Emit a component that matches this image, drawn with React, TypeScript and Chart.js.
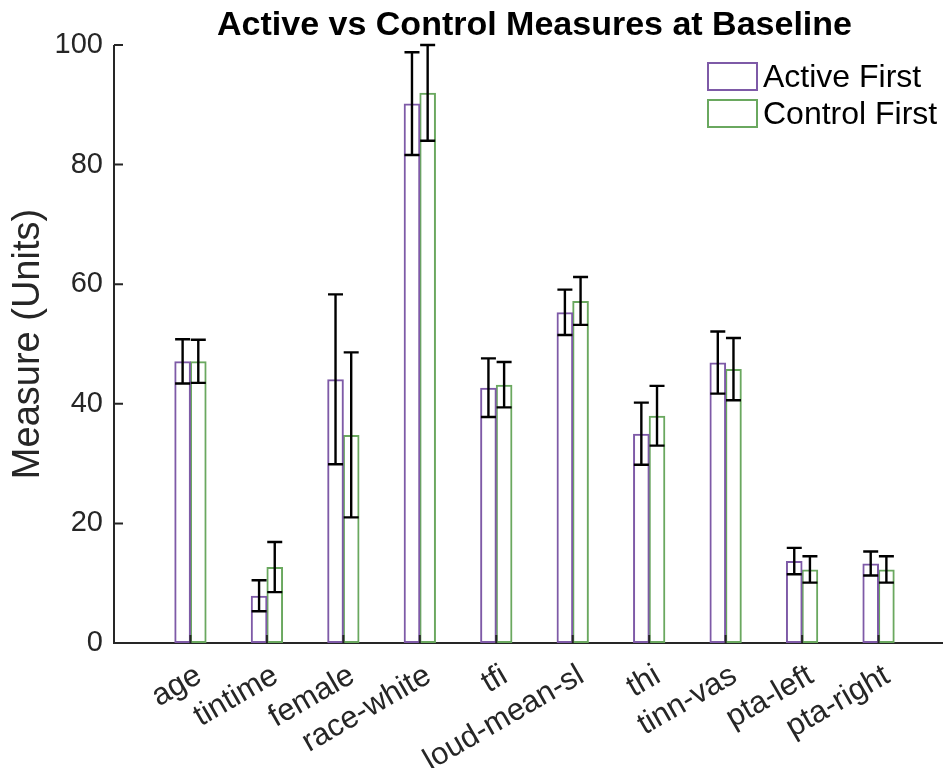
import React, { useEffect, useRef } from 'react';
import { Chart, registerables } from 'chart.js';

Chart.register(...registerables);

const categories = ['age', 'tintime', 'female', 'race-white', 'tfi', 'loud-mean-sl', 'thi', 'tinn-vas', 'pta-left', 'pta-right'];
const activeMeans = [47.1, 7.9, 44.1, 90.2, 42.7, 55.3, 35.0, 46.9, 13.7, 13.3];
const activeErr = [3.7, 2.6, 14.2, 8.6, 4.9, 3.8, 5.2, 5.2, 2.2, 2.0];
const controlMeans = [47.1, 12.7, 34.8, 92.0, 43.2, 57.2, 38.0, 45.8, 12.3, 12.3];
const controlErr = [3.6, 4.2, 13.8, 8.0, 3.8, 4.0, 5.0, 5.2, 2.2, 2.2];
const yTicks = [0, 20, 40, 60, 80, 100];
const seriesNames = ['Active First', 'Control First'];
const titleText = 'Active vs Control Measures at Baseline';
const yTitle = 'Measure (Units)';

const PURPLE = '#7E5AA7';
const GREEN = '#6AA85F';
const AXIS = '#262626';
const FONT = '"Liberation Sans", Arial, Helvetica, sans-serif';

const means = [activeMeans, controlMeans];
const errs = [activeErr, controlErr];
const colors = [PURPLE, GREEN];

const matlabPlugin = {
  id: 'matlabLook',
  beforeDatasetsDraw(chart: any) {
    const { ctx, chartArea: ca, scales } = chart;
    ctx.save();
    ctx.strokeStyle = AXIS;
    ctx.lineWidth = 2;
    ctx.beginPath();
    ctx.moveTo(ca.left, ca.top);
    ctx.lineTo(ca.left, ca.bottom);
    ctx.lineTo(ca.right, ca.bottom);
    for (const t of yTicks) {
      const y = scales.y.getPixelForValue(t);
      ctx.moveTo(ca.left, y);
      ctx.lineTo(ca.left + 9, y);
    }
    ctx.stroke();
    ctx.restore();
  },
  afterDatasetsDraw(chart: any) {
    const { ctx, chartArea: ca, scales } = chart;
    ctx.save();
    // inward x ticks
    ctx.strokeStyle = AXIS;
    ctx.lineWidth = 2;
    ctx.beginPath();
    categories.forEach((_, i) => {
      const x = scales.x.getPixelForValue(i + 1);
      ctx.moveTo(x, ca.bottom);
      ctx.lineTo(x, ca.bottom - 8);
    });
    ctx.stroke();
    // x tick labels, rotated 30 degrees, anchored at their top-right corner
    ctx.fillStyle = AXIS;
    ctx.font = `31px ${FONT}`;
    ctx.textAlign = 'right';
    ctx.textBaseline = 'top';
    categories.forEach((c, i) => {
      const x = scales.x.getPixelForValue(i + 1);
      ctx.save();
      ctx.translate(x + 1, ca.bottom + 17);
      ctx.rotate((-30 * Math.PI) / 180);
      ctx.fillText(c, 0, 0);
      ctx.restore();
    });
    // error bars
    ctx.strokeStyle = '#000000';
    ctx.lineWidth = 2.4;
    for (let d = 0; d < 2; d++) {
      const meta = chart.getDatasetMeta(d);
      meta.data.forEach((bar: any, i: number) => {
        const x = bar.x;
        const yt = scales.y.getPixelForValue(means[d][i] + errs[d][i]);
        const yb = scales.y.getPixelForValue(means[d][i] - errs[d][i]);
        const hw = 7.5;
        ctx.beginPath();
        ctx.moveTo(x, yt);
        ctx.lineTo(x, yb);
        ctx.moveTo(x - hw, yt);
        ctx.lineTo(x + hw, yt);
        ctx.moveTo(x - hw, yb);
        ctx.lineTo(x + hw, yb);
        ctx.stroke();
      });
    }
    // legend
    const lx = 708;
    const rows = [63, 100];
    ctx.font = `32px ${FONT}`;
    ctx.textBaseline = 'middle';
    ctx.textAlign = 'left';
    for (let d = 0; d < 2; d++) {
      ctx.strokeStyle = colors[d];
      ctx.lineWidth = 2;
      ctx.strokeRect(lx, rows[d], 49, 27);
      ctx.fillStyle = '#000000';
      ctx.fillText(seriesNames[d], lx + 55, rows[d] + 15);
    }
    ctx.restore();
  },
  afterDraw(chart: any) {
    const { ctx, chartArea: ca } = chart;
    ctx.save();
    ctx.fillStyle = '#000000';
    ctx.font = `bold 34px ${FONT}`;
    ctx.textAlign = 'center';
    ctx.textBaseline = 'alphabetic';
    ctx.fillText(titleText, (ca.left + ca.right) / 2, 35);
    ctx.translate(29, (ca.top + ca.bottom) / 2);
    ctx.rotate(-Math.PI / 2);
    ctx.fillStyle = AXIS;
    ctx.font = `38px ${FONT}`;
    ctx.textBaseline = 'middle';
    ctx.fillText(yTitle, 0, 0);
    ctx.restore();
  },
};

export default function App() {
  const ref = useRef<HTMLCanvasElement>(null);
  useEffect(() => {
    const canvas = ref.current;
    if (!canvas) return;
    const chart = new Chart(canvas, {
      type: 'bar',
      data: {
        datasets: [0, 1].map((d) => ({
          label: seriesNames[d],
          data: categories.map((_, i) => ({ x: i + 1, y: means[d][i] })),
          backgroundColor: 'rgba(0,0,0,0)',
          borderColor: colors[d],
          borderWidth: 2,
          borderSkipped: false,
          categoryPercentage: 0.41,
          barPercentage: 1.06,
        })),
      },
      options: {
        animation: false,
        responsive: false,
        devicePixelRatio: 1,
        layout: { padding: { top: 45, right: 5, left: 0, bottom: 0 } },
        plugins: { legend: { display: false }, title: { display: false }, tooltip: { enabled: false } },
        scales: {
          x: {
            type: 'linear',
            min: 0,
            max: 11,
            offset: false,
            grid: { display: false },
            border: { display: false },
            afterBuildTicks: (s: any) => {
              s.ticks = categories.map((_, i) => ({ value: i + 1 }));
            },
            afterFit: (s: any) => {
              s.height = 125;
            },
            ticks: {
              display: false,
              autoSkip: false,
              callback: (v: any) => categories[Math.round(Number(v)) - 1] ?? '',
            },
          },
          y: {
            min: 0,
            max: 100,
            grid: { display: false },
            border: { display: false },
            afterFit: (s: any) => {
              s.width = 114;
            },
            ticks: {
              stepSize: 20,
              padding: 3,
              color: AXIS,
              font: { family: FONT, size: 29 },
            },
          },
        },
      },
      plugins: [matlabPlugin],
    } as any);
    return () => chart.destroy();
  }, []);
  return (
    <div style={{ position: 'fixed', left: 0, top: 0, width: 943, height: 768, overflow: 'hidden', background: '#ffffff' }}>
      <canvas ref={ref} width={960} height={768} style={{ width: 960, height: 768, display: 'block' }} />
    </div>
  );
}
